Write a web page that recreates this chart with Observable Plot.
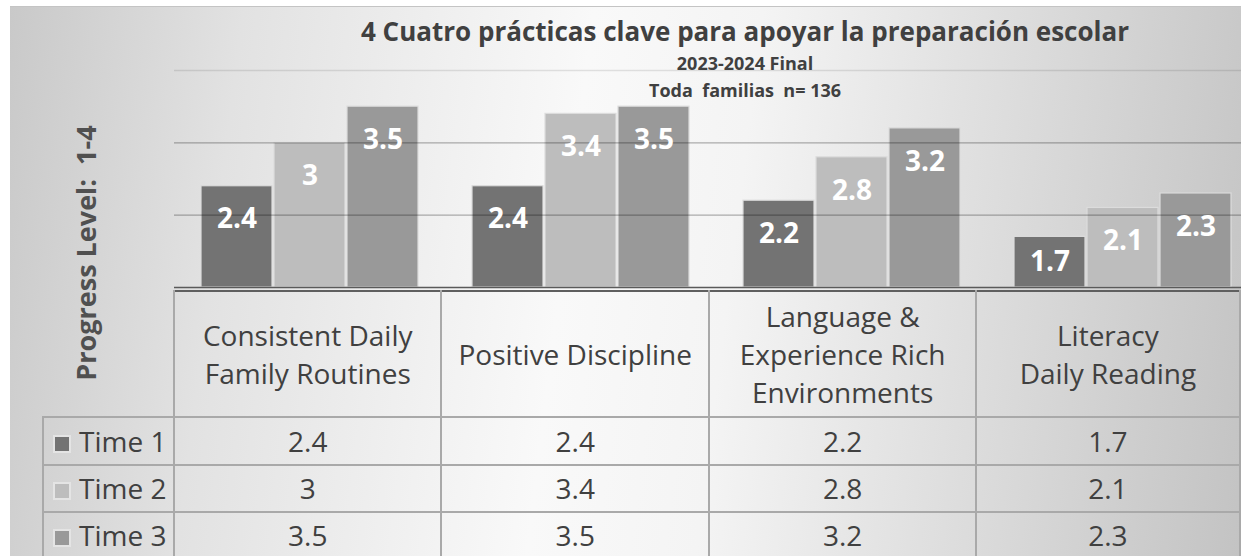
<!DOCTYPE html>
<html>
<head>
<meta charset="utf-8">
<script src="https://cdn.jsdelivr.net/npm/d3@7"></script>
<script src="https://cdn.jsdelivr.net/npm/@observablehq/plot@0.6"></script>
<style>
  html, body { margin: 0; padding: 0; background: #ffffff; overflow: hidden; }
  #chart {
    position: absolute; left: 10px; top: 6px; width: 1231px; height: 550px;
    overflow: hidden; border-top: 1px solid #c4c4c4; box-sizing: border-box;
    background: linear-gradient(97deg, #c9c9c9 0%, #e2e2e2 18%, #f9f9f9 45%, #f4f4f4 58%, #d8d8d8 82%, #c3c3c3 100%);
    font-family: "Open Sans", sans-serif; color: #404040;
  }
  .t { position: absolute; white-space: nowrap; transform: translateX(-50%); font-weight: 700; line-height: 1; }
  #ytitle { position: absolute; left: 75px; top: 246px; transform: translate(-50%, -50%) rotate(-90deg);
    font-size: 27px; font-weight: 700; color: #505050; white-space: pre; line-height: 1; }
  #plotwrap { position: absolute; left: 0; top: -1px; }
  table { position: absolute; left: 32px; top: 283px; border-collapse: collapse; table-layout: fixed; }
  td { border: 2px solid #a9a9a9; padding: 0; text-align: center; vertical-align: middle;
    font-size: 28px; line-height: 1.36; color: #404040; white-space: nowrap; }
  tr.head td { height: 124px; border-top: 2px solid #5f5f5f; }
  tr.head td.corner { border-top: none; border-left: none; }
  td.leg { text-align: left; padding-left: 9px; }
  .sw { display: inline-block; width: 14px; height: 14px; border: 2px solid #e4e4e4; margin-right: 8px; vertical-align: -1px; }
</style>
</head>
<body>
<div id="chart">
  <div id="plotwrap"></div>
  <div class="t" style="left:735px; top:11px; font-size:26px;">4 Cuatro prácticas clave para apoyar la preparación escolar</div>
  <div class="t" style="left:735px; top:47px; font-size:18px;">2023-2024 Final</div>
  <div class="t" style="left:735px; top:74px; font-size:18px; white-space:pre;">Toda  familias  n= 136</div>
  <div id="ytitle">Progress Level:  1-4</div>
</div>
<script>
// ---- data ----
const categories = ["Consistent Daily\nFamily Routines", "Positive Discipline", "Language &\nExperience Rich\nEnvironments", "Literacy\nDaily Reading"];
const series = ["Time 1", "Time 2", "Time 3"];
const time1 = [2.4, 2.4, 2.2, 1.7];
const time2 = [3, 3.4, 2.8, 2.1];
const time3 = [3.5, 3.5, 3.2, 2.3];
const seriesColors = ["#737373", "#bdbdbd", "#999999"];
const yDomain = [1, 4];
const gridTicks = [2, 3];
const topTick = [4];

const valuesBySeries = [time1, time2, time3];
const rows = [];
series.forEach((s, i) => categories.forEach((c, j) => rows.push({category: c, series: s, value: valuesBySeries[i][j]})));

const labelInset = 0.46; // in value units below bar top
const plot = Plot.plot({
  width: 1248, height: 284,
  marginLeft: 164, marginRight: 0, marginTop: 64, marginBottom: 3,
  style: {background: "transparent", maxWidth: "none", overflow: "visible", fontFamily: "Open Sans"},
  fx: {domain: categories, paddingInner: 0, paddingOuter: 0, axis: null, label: null},
  x: {domain: series, paddingInner: 0.03, paddingOuter: 0.35, axis: null, label: null},
  y: {domain: yDomain, axis: null, label: null},
  color: {domain: series, range: seriesColors},
  marks: [
    Plot.barY(rows, {fx: "category", x: "series", y1: yDomain[0], y2: "value", fill: "series", stroke: "#dcdcdc", strokeWidth: 1.2}),
    Plot.ruleY(gridTicks, {stroke: "#000", strokeOpacity: 0.3, strokeWidth: 1.3}),
    Plot.ruleY(topTick, {stroke: "#000", strokeOpacity: 0.1, strokeWidth: 1.3}),
    Plot.ruleY([yDomain[0]], {stroke: "#5a5a5a", strokeWidth: 1.5}),
    Plot.text(rows, {fx: "category", x: "series",
      y: d => Math.max(d.value - labelInset, (d.value + yDomain[0]) / 2),
      text: d => String(d.value), fill: "white", fontSize: 28, fontWeight: "bold", fontFamily: "Open Sans"})
  ]
});
document.getElementById("plotwrap").appendChild(plot);

// ---- data table below the plot ----
const color = plot.scale("color");
const table = document.createElement("table");
const cg = document.createElement("colgroup");
[132, 271, 271, 271, 271].forEach(w => { const col = document.createElement("col"); col.style.width = w + "px"; cg.appendChild(col); });
table.appendChild(cg);
const head = document.createElement("tr"); head.className = "head";
const corner = document.createElement("td"); corner.className = "corner"; head.appendChild(corner);
categories.forEach(c => { const td = document.createElement("td"); td.innerHTML = c.split("\n").join("<br>"); head.appendChild(td); });
table.appendChild(head);
const rowHeights = [46, 45, 45];
series.forEach((s, i) => {
  const tr = document.createElement("tr");
  const lg = document.createElement("td"); lg.className = "leg"; lg.style.height = rowHeights[i] + "px";
  const sw = document.createElement("span"); sw.className = "sw"; sw.style.background = color.apply(s);
  lg.appendChild(sw); lg.appendChild(document.createTextNode(s));
  tr.appendChild(lg);
  valuesBySeries[i].forEach(v => { const td = document.createElement("td"); td.textContent = String(v); tr.appendChild(td); });
  table.appendChild(tr);
});
document.getElementById("chart").appendChild(table);
</script>
</body>
</html>
